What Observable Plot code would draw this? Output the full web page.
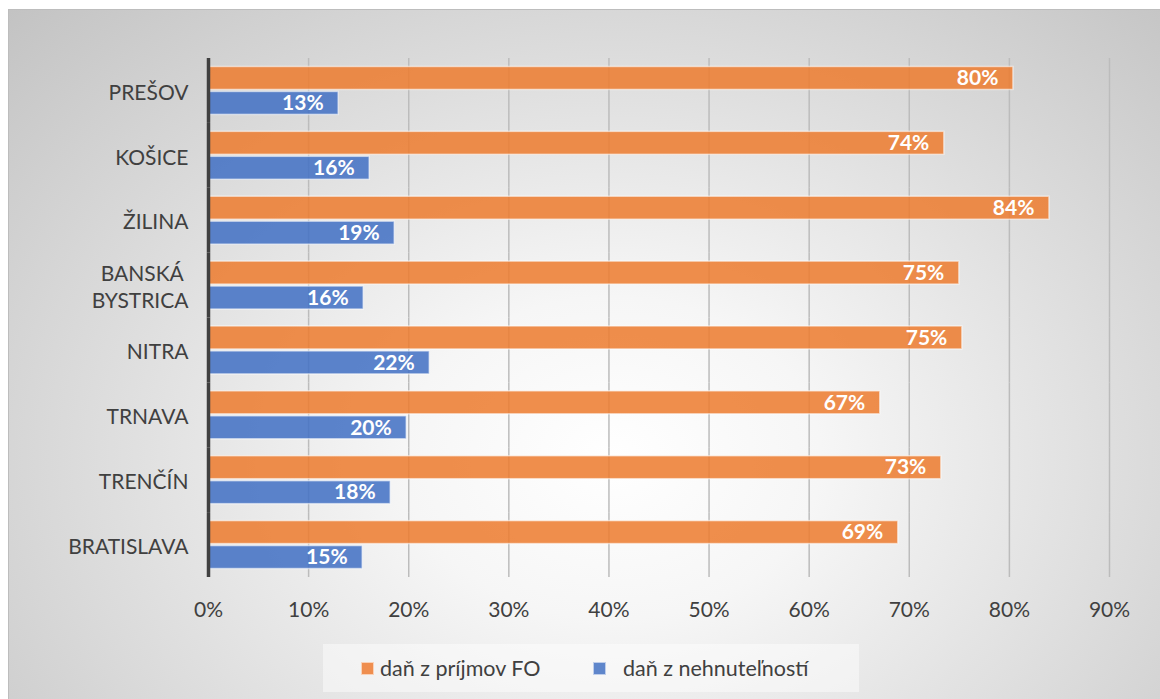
<!DOCTYPE html>
<html>
<head>
<meta charset="utf-8">
<script src="https://cdn.jsdelivr.net/npm/d3@7"></script>
<script src="https://cdn.jsdelivr.net/npm/@observablehq/plot@0.6"></script>
<style>
  html, body { margin: 0; padding: 0; background: #fff; width: 1160px; height: 699px; overflow: hidden; }
  #frame {
    position: absolute; left: 8px; top: 9px; width: 1160px; height: 700px;
    border-top: 1px solid #bdbdbd; border-left: 1px solid #bdbdbd;
    background: radial-gradient(ellipse 72% 92% at 52% 64%, #ffffff 0%, #f6f6f6 25%, #dedede 60%, #c3c3c3 100%);
  }
  #chart { position: absolute; left: 0; top: 0; }
  #legend {
    position: absolute; left: 323px; top: 644px; width: 536px; height: 48px;
    background: rgba(255,255,255,0.45);
    font-family: Lato, sans-serif; font-size: 21.5px; color: #404040;
  }
  .item { position: absolute; top: 11px; line-height: 26px; white-space: nowrap; }
  .sw { position: absolute; top: 18px; width: 13px; height: 13px; box-sizing: border-box; border: 1px solid rgba(255,255,255,0.6); }
</style>
</head>
<body>
<div id="frame"></div>
<div id="chart"></div>
<div id="legend">
  <div class="sw" style="left:38px;background:#ef8e4f;"></div>
  <div class="item" style="left:57px;" id="l1"></div>
  <div class="sw" style="left:270px;background:#5f86cb;"></div>
  <div class="item" style="left:300px;" id="l2"></div>
</div>
<script>
const regions = ["PREŠOV", "KOŠICE", "ŽILINA", "BANSKÁ BYSTRICA", "NITRA", "TRNAVA", "TRENČÍN", "BRATISLAVA"];
const incomeTax = [80.4, 73.5, 84.0, 75.0, 75.3, 67.1, 73.2, 68.9];
const propertyTax = [13.0, 16.1, 18.6, 15.5, 22.1, 19.8, 18.2, 15.4];
const seriesNames = ["daň z príjmov FO", "daň z nehnuteľností"];
const seriesColors = ["#ED7D31", "#4472C4"];
const xTicks = [0, 10, 20, 30, 40, 50, 60, 70, 80, 90];

document.getElementById("l1").textContent = seriesNames[0];
document.getElementById("l2").textContent = seriesNames[1];

const rows = [];
regions.forEach((r, i) => {
  rows.push({region: r, series: seriesNames[0], value: incomeTax[i]});
  rows.push({region: r, series: seriesNames[1], value: propertyTax[i]});
});

const chart = Plot.plot({
  width: 1160,
  height: 699,
  marginLeft: 208,
  marginRight: 51,
  marginTop: 58,
  marginBottom: 122,
  style: {background: "transparent", fontFamily: "Lato, sans-serif", color: "#404040"},
  x: {domain: [0, 90], axis: null},
  y: {domain: seriesNames, paddingInner: 0.08, paddingOuter: 0.34, round: false, axis: null},
  fy: {domain: regions, padding: 0, round: false, axis: null},
  color: {domain: seriesNames, range: seriesColors},
  marks: [
    Plot.ruleX(xTicks.filter(d => d > 0), {stroke: "#bcbcbc", strokeWidth: 1.5}),
    Plot.barX(rows, {
      fy: "region", y: "series", x: "value", fill: "series",
      fillOpacity: 0.87, stroke: "white", strokeOpacity: 0.55, strokeWidth: 1.5
    }),
    Plot.text(rows, {
      fy: "region", y: "series", x: "value",
      text: d => Math.round(d.value) + "%",
      textAnchor: "end", dx: -15, fill: "white", fontWeight: "bold", fontSize: 21
    }),
    Plot.ruleX([0], {stroke: "#404040", strokeWidth: 3.5}),
    Plot.axisFy({
      anchor: "left", tickSize: 0, tickPadding: 20, fontSize: 21, lineHeight: 1.3,
      label: null, fill: "#404040",
      tickFormat: d => d === "BANSKÁ BYSTRICA" ? "BANSKÁ\u00a0\nBYSTRICA" : d
    }),
    Plot.axisX({
      anchor: "bottom", ticks: xTicks, tickFormat: d => d + "%",
      tickSize: 0, tickPadding: 25, fontSize: 21, label: null, fill: "#404040"
    })
  ]
});
document.getElementById("chart").appendChild(chart);
</script>
</body>
</html>
